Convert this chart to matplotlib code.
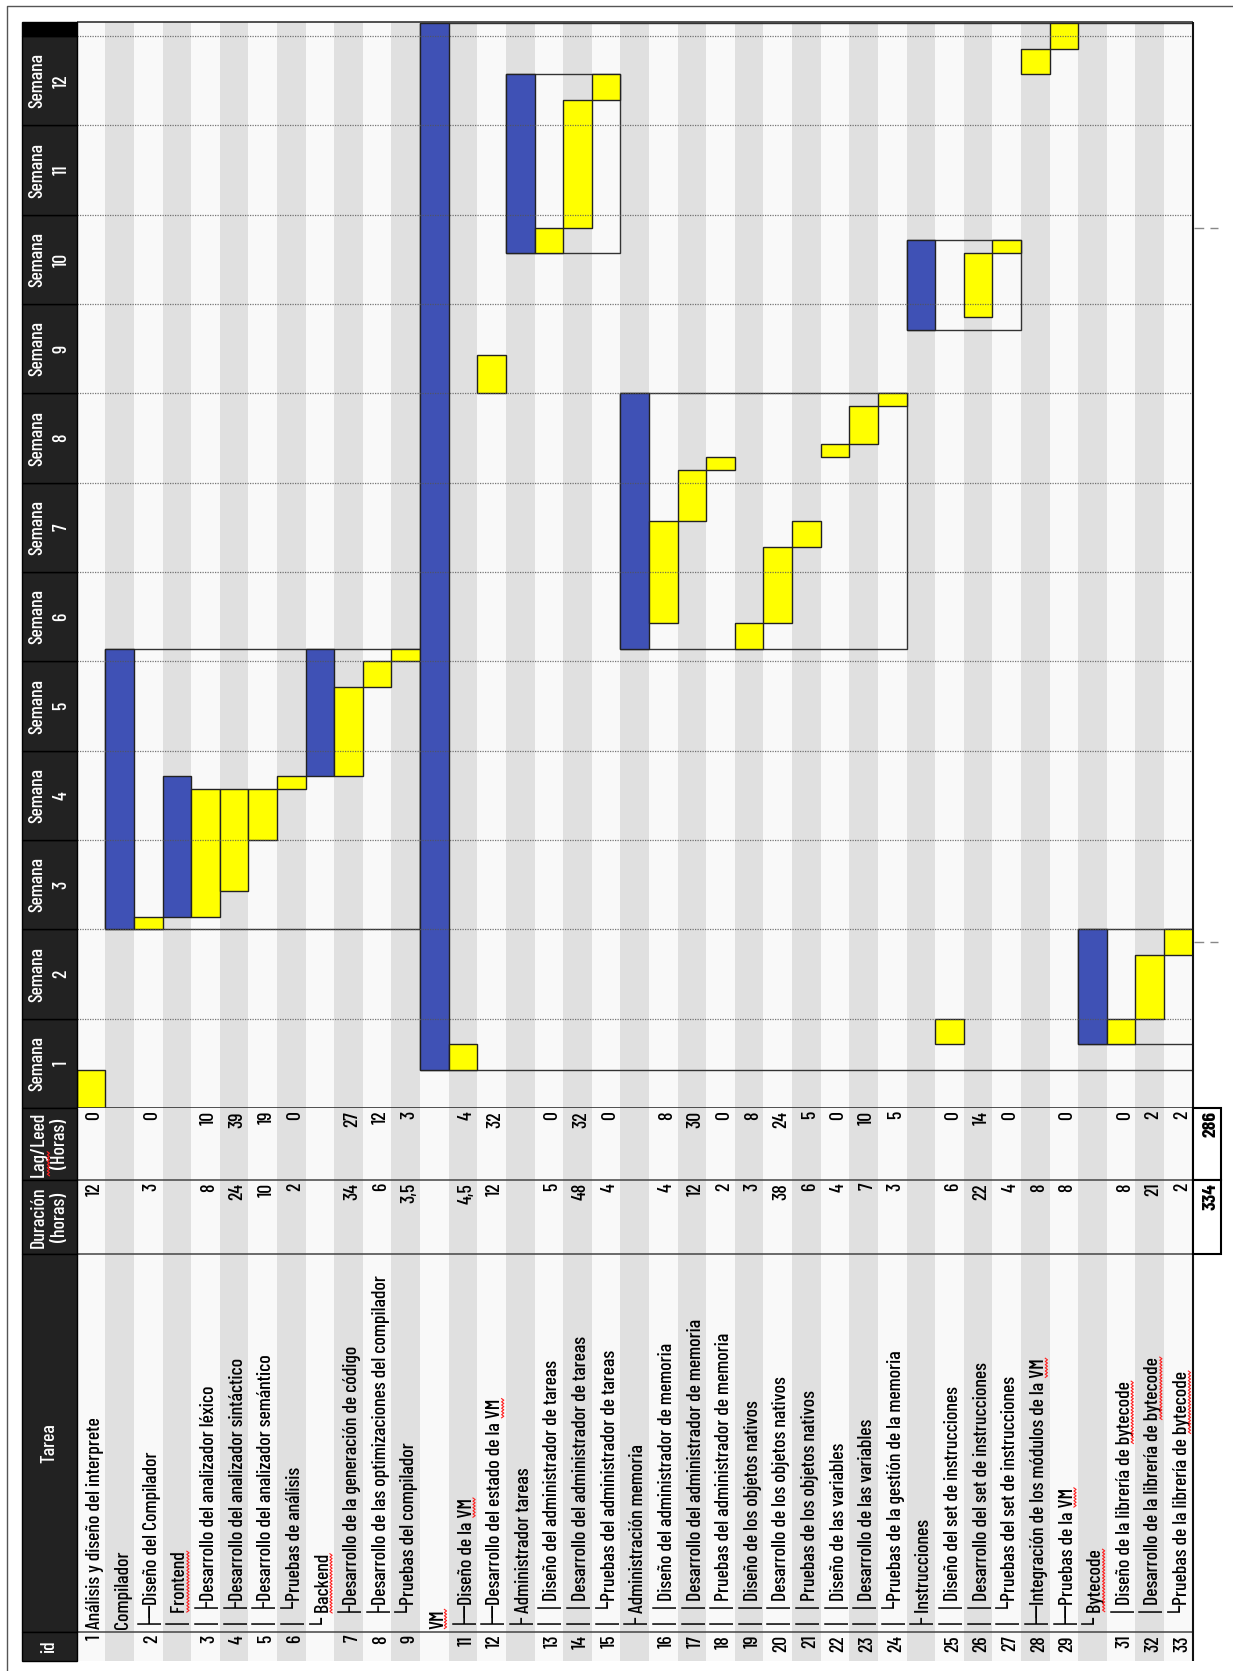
import numpy as np
import matplotlib.pyplot as plt
import matplotlib.font_manager as fm
from matplotlib.textpath import TextPath
from matplotlib.patches import Rectangle

# Filas de la hoja (cada fila es una columna del diagrama girado)
tareas = [
    "Análisis y diseño del interprete",
    "Compilador",
    "├─Diseño del Compilador",
    "│ Frontend",
    "│ ├Desarrollo del analizador léxico",
    "│ ├Desarrollo del analizador sintáctico",
    "│ ├Desarrollo del analizador semántico",
    "│ └Pruebas de análisis",
    "└ Backend",
    "   ├Desarrollo de la generación de código",
    "   ├Desarrollo de las optimizaciones del compilador",
    "   └Pruebas del compilador",
    "VM",
    "├─Diseño de la VM",
    "├─Desarrollo del estado de la VM",
    "├ Administrador tareas",
    "│ │Diseño del administrador de tareas",
    "│ │Desarrollo del administrador de tareas",
    "│ └Pruebas del administrador de tareas",
    "├ Administración memoria",
    "│ │Diseño del administrador de memoria",
    "│ │Desarrollo del administrador de memoria",
    "│ │Pruebas del administrador de memoria",
    "│ │Diseño de los objetos nativos",
    "│ │Desarrollo de los objetos nativos",
    "│ │Pruebas de los objetos nativos",
    "│ │Diseño de las variables",
    "│ │Desarrollo de las variables",
    "│ └Pruebas de la gestión de la memoria",
    "├ Instrucciones",
    "│ │Diseño del set de instrucciones",
    "│ │Desarrollo del set de instrucciones",
    "│ └Pruebas del set de instrucciones",
    "├─Integración de los módulos de la VM",
    "├─Pruebas de la VM",
    "└ Bytecode",
    "   │Diseño de la librería de bytecode",
    "   │Desarrollo de la librería de bytecode",
    "   └Pruebas de la librería de bytecode",
]
ids = [1, None, 2, None, 3, 4, 5, 6, None, 7, 8, 9, None, 11, 12, None, 13, 14, 15,
       None, 16, 17, 18, 19, 20, 21, 22, 23, 24, None, 25, 26, 27, 28, 29, None, 31, 32, 33]
duracion = [12, None, 3, None, 8, 24, 10, 2, None, 34, 6, 3.5, None, 4.5, 12, None, 5, 48, 4,
            None, 4, 12, 2, 3, 38, 6, 4, 7, 3, None, 6, 22, 4, 8, 8, None, 8, 21, 2]
lag = [0, None, 0, None, 10, 39, 19, 0, None, 27, 12, 3, None, 4, 32, None, 0, 32, 0,
       None, 8, 30, 0, 8, 24, 5, 0, 10, 5, None, 0, 14, 0, None, 0, None, 0, 2, 2]
# inicio y fin de cada barra, en días desde el comienzo
inicio = [0, 14, 14, 15, 15, 17, 21, 25, 26, 26, 33, 35, 3, 3, 56, 67, 67, 69, 79,
          36, 38, 46, 50, 36, 38, 44, 51, 52, 55, 61, 5, 62, 67, 81, 83, 5, 5, 7, 12]
fin = [3, 36, 15, 26, 25, 25, 25, 26, 36, 33, 35, 36, 85, 5, 59, 81, 69, 79, 81,
       56, 46, 50, 51, 38, 44, 46, 52, 55, 56, 68, 7, 67, 68, 83, 85, 14, 7, 12, 14]
# grupos con recuadro: (fila del grupo, última fila hija)
recuadros = [(1, 11), (12, 38), (15, 18), (19, 28), (29, 32), (35, 38)]
semanas = list(range(1, 13))
marcas = [13, 69]
subrayados = [(3, 'Frontend'), (8, 'Backend'), (12, 'VM'), (13, 'VM'), (14, 'VM'),
              (33, 'VM'), (34, 'VM'), (35, 'Bytecode'), (36, 'bytecode'),
              (37, 'bytecode'), (38, 'bytecode')]

AZUL, AMARILLO = '#3f51b5', '#ffff00'
W, H, DPI = 1233, 1671, 100
X0, CW = 76.7, 28.615          # borde izquierdo y ancho de cada fila (px)
NCOL = len(tareas)
Y0, PX_DIA, TOPE = 1108.0, 12.76, 85.1
Y_LAG, Y_DUR, Y_TAR, Y_ID, Y_FIN = 1108, 1180, 1254, 1632, 1661
HX = (22 - X0) / CW           # borde izquierdo de la cabecera, en filas

# fuente estrecha: la de proporción ancho/alto más parecida a la de la hoja
disponibles = {f.name for f in fm.fontManager.ttflist}
candidatas = ['Liberation Sans Narrow', 'Arial Narrow', 'Archivo Narrow', 'PT Sans Narrow',
              'Pragati Narrow', 'Roboto Condensed', 'Fira Sans Condensed',
              'Fira Sans Extra Condensed', 'Barlow Condensed', 'Barlow Semi Condensed',
              'Encode Sans Condensed', 'Asap Condensed', 'Saira Condensed',
              'IBM Plex Sans Condensed', 'Open Sans Condensed', 'Ubuntu Condensed',
              'Sofia Sans Condensed']
OBJETIVO = 14.5


def proporcion(nombre):
    prop = fm.FontProperties(family=nombre, size=100)
    ruta = fm.findfont(prop, fallback_to_default=False)
    if '[' in ruta:
        return None
    w = TextPath((0, 0), tareas[0], prop=prop).get_extents().width
    h = TextPath((0, 0), 'H', prop=prop).get_extents().height
    return w / h


mejor, dif = 'DejaVu Sans', 1e9
for nombre in candidatas:
    if nombre not in disponibles:
        continue
    try:
        r = proporcion(nombre)
    except Exception:
        r = None
    if r is not None and abs(r - OBJETIVO) < dif:
        mejor, dif = nombre, abs(r - OBJETIVO)
familia = [mejor, 'DejaVu Sans']
plt.rcParams['font.family'] = familia
plt.rcParams['font.weight'] = 500


def caja_px(x0, y0, x1, y1):
    return [x0 / W, 1 - y1 / H, (x1 - x0) / W, (y1 - y0) / H]


def fmt(v):
    return f"{v:g}".replace('.', ',')


fig = plt.figure(figsize=(W / DPI, H / DPI), dpi=DPI)
rend = fig.canvas.get_renderer()


def ancho(s, prop):
    return rend.get_text_width_height_descent(s, prop, ismath=False)[0]


# tamaño de letra ajustado para que la primera tarea mida ~212 px
w10 = ancho(tareas[0], fm.FontProperties(family=familia, size=10, weight=500))
plt.rcParams['font.size'] = 10 * 212 / w10

ax_bg = fig.add_axes([0, 0, 1, 1], zorder=0)
ax_bg.set_xlim(0, W); ax_bg.set_ylim(H, 0); ax_bg.axis('off')
ax_bg.plot([7, 7, W], [H, 6, 6], color='#555555', lw=1)

ax_g = fig.add_axes(caja_px(X0, Y0 - TOPE * PX_DIA, X0 + NCOL * CW, Y0), zorder=1)
ax_g.set_xlim(0, NCOL); ax_g.set_ylim(0, TOPE); ax_g.axis('off')

ax_t = fig.add_axes(caja_px(X0, Y_LAG, X0 + NCOL * CW, Y_FIN), zorder=1)
ax_t.set_xlim(0, NCOL); ax_t.set_ylim(Y_FIN, Y_LAG); ax_t.axis('off')

ax_top = fig.add_axes([0, 0, 1, 1], zorder=10)
ax_top.set_xlim(0, W); ax_top.set_ylim(H, 0); ax_top.axis('off')

cols = np.arange(NCOL)
franjas = ['#f9f9f9' if c % 2 == 0 else '#e0e0e0' for c in cols]
ax_g.bar(cols + 0.5, TOPE, width=1, color=franjas, zorder=0)
ax_t.bar(cols + 0.5, Y_FIN - Y_LAG, bottom=Y_LAG, width=1, color=franjas, zorder=0)

# recuadros de los grupos
for g, ultima in recuadros:
    ax_g.add_patch(Rectangle((g, inicio[g]), ultima + 1 - g, fin[g] - inicio[g],
                             fill=False, ec='#333333', lw=1.0, zorder=2))

# barras: azul para grupos, amarillo para tareas
es_grupo = [i is None for i in ids]
ini = np.array(inicio, float)
dur_dias = np.array(fin, float) - ini
ax_g.bar(cols + 0.5, dur_dias, bottom=ini, width=1,
         color=[AZUL if g else AMARILLO for g in es_grupo],
         edgecolor='#222222', linewidth=1.0, zorder=3)

# líneas de semana
ax_g.hlines(np.arange(7, 85, 7), 0, NCOL, colors='#555555', linestyles=(0, (1, 1)),
            lw=0.9, alpha=0.8, zorder=4)
ax_g.hlines([0, TOPE], 0, NCOL, colors='#333333', lw=1.2, zorder=5, clip_on=False)
ax_g.vlines(NCOL, 0, TOPE, colors='#111111', lw=1.5, zorder=5, clip_on=False)
ax_g.hlines(marcas, NCOL + 0.03, NCOL + 0.9, colors='#888888', lw=1,
            linestyles=(0, (7, 4.5)), clip_on=False)

# cabecera de semanas
for k in semanas:
    ax_g.add_patch(Rectangle((HX, 7 * (k - 1)), -HX, 7, fc='#222222', ec='black',
                             lw=1, clip_on=False, zorder=6))
    ax_g.text(HX / 2, 7 * (k - 0.5), f"Semana\n{k}", rotation=90, ha='center',
              va='center', multialignment='center', color='white', clip_on=False,
              zorder=7, linespacing=1.45)
ax_g.add_patch(Rectangle((HX, 84), -HX, TOPE - 84, fc='black', ec='black', lw=1,
                         clip_on=False, zorder=6))

# tabla inferior
secciones = [(Y_LAG, Y_DUR, 'Lag/Leed\n(Horas)'), (Y_DUR, Y_TAR, 'Duración\n(horas)'),
             (Y_TAR, Y_ID, 'Tarea'), (Y_ID, Y_FIN, 'id')]
cab_txt = {}
for y0, y1, txt in secciones:
    ax_t.add_patch(Rectangle((HX, y0), -HX, y1 - y0, fc='#222222', ec='black', lw=1,
                             clip_on=False, zorder=6))
    cab_txt[txt] = ax_t.text(HX / 2, (y0 + y1) / 2, txt, rotation=90, ha='center',
                             va='center', multialignment='center', color='white',
                             clip_on=False, zorder=7, linespacing=1.2)
ax_t.hlines([Y_DUR, Y_TAR, Y_ID], 0, NCOL, colors='#444444', lw=1.1, zorder=5)
ax_t.vlines(NCOL, Y_LAG, Y_FIN, colors='#111111', lw=1.5, zorder=5, clip_on=False)

kw = dict(rotation=90, rotation_mode='anchor', va='baseline', color='#000000', zorder=7)
textos = []
for c in cols:
    xb = c + 0.8
    if lag[c] is not None:
        ax_t.text(xb, Y_LAG + 3, fmt(lag[c]), ha='right', **kw)
    if duracion[c] is not None:
        ax_t.text(xb, Y_DUR + 3, fmt(duracion[c]), ha='right', **kw)
    if ids[c] is not None:
        ax_t.text(xb, Y_ID + 3, str(ids[c]), ha='right', **kw)
    textos.append(ax_t.text(xb, Y_ID - 3, tareas[c], ha='left', **kw))

# totales
for y0, y1, vals in [(Y_LAG, Y_DUR, lag), (Y_DUR, Y_TAR, duracion)]:
    ax_t.add_patch(Rectangle((NCOL, y0), 1, y1 - y0, fc='white', ec='black', lw=1.5,
                             clip_on=False, zorder=6))
    total = sum(v for v in vals if v is not None)
    ax_t.text(NCOL + 0.8, y0 + 3, fmt(total), ha='right', fontweight='bold',
              clip_on=False, **kw)


# subrayado del corrector ortográfico
def zigzag(x, ya, yb):
    ys = np.arange(min(ya, yb), max(ya, yb) + 0.1, 1.6)
    xs = x + np.where(np.arange(len(ys)) % 2 == 0, -1.1, 1.1)
    ax_top.plot(xs, ys, color='#ff2020', lw=0.8, zorder=12)


for c, palabra in subrayados:
    s = tareas[c]
    i = s.find(palabra)
    prop = textos[c].get_fontproperties()
    w_fin = ancho(s[:i + len(palabra)], prop)
    w_pal = ancho(palabra, prop)
    ya = Y_ID - 3 - (w_fin - w_pal)
    yb = Y_ID - 3 - w_fin
    zigzag(X0 + (c + 0.8) * CW + 2.5, ya, yb)

t_lag = cab_txt['Lag/Leed\n(Horas)']
prop = t_lag.get_fontproperties()
bb = t_lag.get_window_extent(rend)
w1 = ancho('Lag/Leed', prop)
yc = (Y_LAG + Y_DUR) / 2
zigzag(bb.x0 + bb.width / 2 - 1, yc + w1 / 2, yc + w1 / 2 - ancho('Lag', prop))

fig.savefig('out.png', dpi=DPI)
